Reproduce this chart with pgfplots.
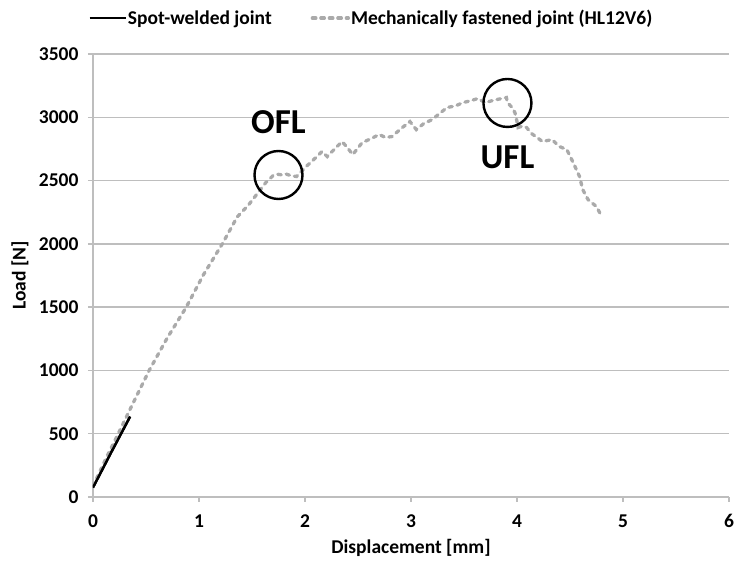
\documentclass[border=0pt]{standalone}
\usepackage{fontspec}
\setmainfont{Carlito}
\usepackage{pgfplots}
\pgfplotsset{compat=1.18}
\definecolor{gridgray}{RGB}{190,190,190}
\definecolor{curvegray}{RGB}{170,170,170}
\pgfplotstableread{
x y
0 75
0.17 350
0.35 635
}\spotwelded
\begin{document}
\begin{tikzpicture}
\begin{axis}[
  scale only axis, width=636pt, height=443pt,
  xmin=0, xmax=6, ymin=0, ymax=3500,
  xtick={0,1,2,3,4,5,6}, ytick={0,500,...,3500},
  axis lines=left,
  axis line style={gridgray, line width=1.4pt, -},
  ymajorgrids, grid style={gridgray, line width=1.4pt},
  tick style={gridgray, line width=1.4pt},
  tick align=outside, major tick length=5pt,
  font=\fontsize{19.5}{23}\selectfont\bfseries,
  ticklabel style={font=\fontsize{19.5}{23}\selectfont\bfseries},
  xticklabel style={yshift=-9pt},
  yticklabel style={xshift=-6pt},
  /pgf/number format/assume math mode=true,
  /pgf/number format/set thousands separator={},
  xlabel={Displacement [mm]}, ylabel={Load [N]},
  xlabel style={at={(axis description cs:0.5,-0.115)}, anchor=center},
  ylabel style={at={(axis description cs:-0.115,0.5)}, anchor=center},
  legend columns=2,
  legend style={at={(0.437,1.081)}, anchor=center, draw=none, fill=none,
    font=\fontsize{19.5}{23}\selectfont\bfseries,
    /tikz/every even column/.append style={column sep=38pt},
    nodes={inner sep=1pt}},
  legend image code/.code={\draw[#1] (0pt,0pt) -- (36pt,0pt);},
]
\addplot[black, line width=2.4pt] table {\spotwelded};
\addlegendentry{Spot-welded joint}
\addplot[curvegray, line width=3.3pt, line cap=round, dash pattern=on 3.5pt off 5pt] coordinates {
(0,85) (0.12,300) (0.25,520) (0.38,745) (0.53,1000) (0.70,1256)
(0.88,1500) (1.04,1753) (1.22,2000) (1.36,2212) (1.47,2310) (1.63,2484)
(1.70,2540) (1.74,2550) (1.78,2545) (1.82,2552) (1.87,2538) (1.92,2532)
(2.01,2610) (2.10,2680) (2.16,2729) (2.21,2690) (2.28,2750) (2.35,2808)
(2.40,2760) (2.45,2705) (2.54,2800) (2.62,2830) (2.70,2864) (2.76,2840)
(2.82,2848) (2.92,2920) (2.99,2966) (3.05,2903) (3.12,2950) (3.20,2982)
(3.27,3030) (3.34,3077) (3.42,3090) (3.49,3116) (3.56,3130) (3.63,3148)
(3.70,3116) (3.76,3130) (3.81,3140) (3.90,3156) (3.91,3116) (3.95,3080)
(3.98,3038) (4.00,2966) (4.01,2919) (4.05,2930) (4.09,2919) (4.14,2870)
(4.19,2840) (4.24,2808) (4.33,2824) (4.40,2769) (4.47,2745) (4.53,2642)
(4.59,2532) (4.62,2429) (4.67,2350) (4.75,2294) (4.80,2215)
};
\addlegendentry{Mechanically fastened joint (HL12V6)}
\addplot[black, line width=2.4pt, forget plot] table {\spotwelded};
\draw[black, line width=2.4pt] (axis cs:1.75,2544) circle[radius=24pt];
\draw[black, line width=2.4pt] (axis cs:3.91,3113) circle[radius=24pt];
\node[font=\fontsize{35}{40}\selectfont\bfseries] at (axis cs:1.75,2963) {OFL};
\node[font=\fontsize{35}{40}\selectfont\bfseries] at (axis cs:3.91,2686) {UFL};
\end{axis}
\pgfresetboundingbox
\path ([shift={(-93pt,-66pt)}]current axis.south west) rectangle ([shift={(5pt,54pt)}]current axis.north east);
\end{tikzpicture}
\end{document}
